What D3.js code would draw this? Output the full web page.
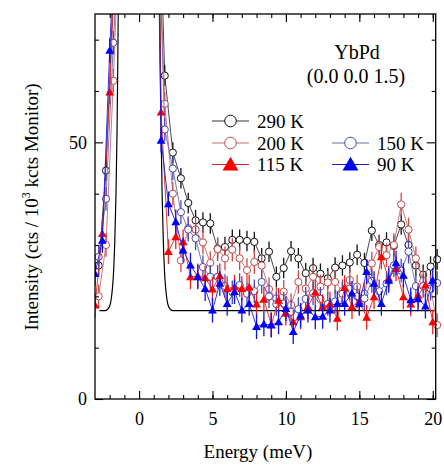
<!DOCTYPE html>
<html>
<head>
<meta charset="utf-8">
<script src="https://cdn.jsdelivr.net/npm/d3@7"></script>
<style>
  body { margin: 0; background: #fff; }
  svg, svg text { font-family: 'Liberation Serif', Tinos, 'Times New Roman', Times, 'DejaVu Serif', serif; }
</style>
</head>
<body>
<script>
// #Data (energy in meV, intensity in cts / 10^3 kcts monitor)
// circles sit on one energy grid, triangles on another
const eCircles = [-2.75, -2.25, -1.75, -1.25, 1.25, 1.75, 2.3, 2.85, 3.35, 3.85, 4.35, 4.85, 5.35, 5.85,
  6.35, 6.85, 7.35, 7.85, 8.35, 8.85, 9.35, 9.85, 10.35, 10.85, 11.35, 11.85, 12.35, 12.85, 13.35,
  13.85, 14.35, 14.85, 15.35, 15.85, 16.35, 16.85, 17.35, 17.85, 18.35, 18.85, 19.35, 19.85, 20.3];
const eTriangles = [-3.0, -2.5, -2.0, -1.5, 1.0, 1.5, 2.0, 2.5, 3.0, 3.5, 4.0, 4.5, 5.0, 5.5, 6.0,
  6.5, 7.0, 7.5, 8.0, 8.5, 9.0, 9.5, 10.0, 10.5, 11.0, 11.5, 12.0, 12.5, 13.0, 13.5, 14.0, 14.5,
  15.0, 15.5, 16.0, 16.5, 17.0, 17.5, 18.0, 18.5, 19.0, 19.5, 20.0];

const i290 = [26, 44.5, 80, 110, 110, 63, 48, 43, 38.2, 34.8, 34.4, 34.2, 29.3, 29.6, 31, 31, 30.8, 30.6,
  27.4, 28.7, 23.8, 25.5, 28.8, 27.4, 24.5, 25.5, 24.4, 23.5, 25.6, 26, 26.6, 28.1, 26.5, 32.8,
  30, 30.5, 29.8, 34, 30, 26, 24.2, 25.8, 27.2];
const i200 = [20, 30, 62, 100, 100, 57.5, 40, 27, 33.3, 33, 30.5, 26.5, 29.2, 27.4, 29.1, 27.4, 25.1, 26.7,
  26, 21.4, 19.6, 20.9, 18.3, 22.8, 21.5, 23.8, 21.9, 22.7, 22.8, 21, 23.2, 21.9, 20.5, 26.4,
  29.6, 28, 30, 37.9, 33, 27.4, 23, 21.9, 14.4];
const i150 = [27.7, 39, 69.4, 97, 100, 52.5, 44.9, 36.4, 33, 31.3, 25.7, 23.8, 23.8, 22, 20.8, 22.2, 20.5, 21,
  22.8, 20, 18.5, 18.6, 17, 17.5, 19.5, 20.6, 19.5, 18.5, 19, 20.5, 21.5, 20, 19.6, 23,
  21, 22.5, 26, 25, 28.7, 22, 22, 21.5, 22.6];
const i115 = [18.3, 32.2, 59.8, 95, 150, 55.9, 28.7, 31.6, 30.6, 23.8, 24, 23.6, 21.4, 24, 21.5, 21.8, 21.5,
  21.8, 18.5, 19.4, 14.5, 19.2, 16.7, 15, 16, 18, 20.8, 18, 18.5, 15.7, 21.7, 18, 19, 15.9,
  19.9, 27.7, 23.5, 25.4, 19.9, 18.5, 20.2, 22.2, 15];
const i90 = [24.4, 30.9, 67.9, 100, 150, 50.4, 38, 34.5, 29, 26.1, 23.8, 21.5, 17.3, 22.5, 18.6, 20.9, 17.3,
  18.6, 14.1, 14.6, 14.4, 15, 17.6, 13.1, 16.3, 17.3, 16, 16.1, 17.3, 18.6, 18.6, 20.6, 18.6, 24.8,
  22.5, 18.6, 23.1, 26.5, 24.1, 19.3, 19.5, 18.1, 23.1];

// #Half length of the error bars for each temperature
const errors = [2.0, 2.3, 2.3, 2.4, 2.4];

// #Resolution (elastic) line
const resE = [-2.7, -2.3, -2.1, -1.95, -1.85, -1.75, -1.65, -1.57, -1.5, -1.45, -1.4,
  1.4, 1.45, 1.5, 1.57, 1.65, 1.75, 1.85, 1.95, 2.1, 2.3, 20.2];
const resI = [17.2, 17.2, 17.6, 18.6, 20.5, 24, 31, 40, 52, 65, 78,
  78, 65, 52, 40, 31, 24, 20.5, 18.6, 17.6, 17.2, 17.2];

const labels = ['290 K', '200 K', '150 K', '115 K', '90 K'];
const xMajor = [0, 5, 10, 15, 20];
const xMinor = d3.range(-2, 21, 1);
const yMajor = [0, 50];
const yMinor = [10, 20, 30, 40, 60, 70];

const FONT = "'Liberation Serif', Tinos, 'Times New Roman', Times, 'DejaVu Serif', serif";

// #Series styles
const series = [
  {name: labels[0], e: eCircles, v: i290, err: errors[0], shape: 'circle', line: '#333', stroke: '#111', fill: '#fff', bar: '#111'},
  {name: labels[1], e: eCircles, v: i200, err: errors[1], shape: 'circle', line: '#c07070', stroke: '#c04a4a', fill: '#fff', bar: '#d04848'},
  {name: labels[2], e: eCircles, v: i150, err: errors[2], shape: 'circle', line: '#6a6ab0', stroke: '#4848a8', fill: '#fff', bar: '#4848b8'},
  {name: labels[3], e: eTriangles, v: i115, err: errors[3], shape: 'triangle', line: '#e02020', stroke: '#ff0000', fill: '#ff0000', bar: '#e82020'},
  {name: labels[4], e: eTriangles, v: i90, err: errors[4], shape: 'triangle', line: '#1a1ae0', stroke: '#0000ff', fill: '#0000ff', bar: '#1010e8'}
];

// #SVG
const width = 444, height = 468;
const margin = {top: 14, right: 8.3, bottom: 69, left: 95};

const svg = d3.select('body')
              .append('svg')
              .attr('width', width)
              .attr('height', height)
              .attr('font-family', FONT);

const x = d3.scaleLinear()
            .domain([-3, 20.2])
            .range([margin.left, width - margin.right]);
const y = d3.scaleLinear()
            .domain([0, 75])
            .range([height - margin.bottom, margin.top]);

svg.append('clipPath')
   .attr('id', 'plot-clip')
   .append('rect')
   .attr('x', margin.left)
   .attr('y', margin.top)
   .attr('width', width - margin.left - margin.right + 6)
   .attr('height', height - margin.top - margin.bottom);

const plot = svg.append('g').attr('clip-path', 'url(#plot-clip)');

// #Resolution line
const resLine = d3.line()
                  .x(d => x(d[0]))
                  .y(d => y(d[1]))
                  .curve(d3.curveMonotoneX);
plot.append('path')
    .datum(resE.map((e, i) => [e, resI[i]]))
    .attr('d', resLine)
    .attr('fill', 'none')
    .attr('stroke', '#000')
    .attr('stroke-width', 1.2);

// #Draw each temperature
const line = d3.line().x(d => x(d[0])).y(d => y(d[1]));
const triangle = d3.symbol().type(d3.symbolTriangle);

series.forEach(s => {
    const pts = s.e.map((e, i) => [e, s.v[i]]);
    const g = plot.append('g');

    g.append('path')
     .datum(pts)
     .attr('d', line)
     .attr('fill', 'none')
     .attr('stroke', s.line)
     .attr('stroke-width', 0.9);

    const shown = pts.filter(d => d[1] < 75);

    g.selectAll('line.err')
     .data(shown)
     .enter()
     .append('line')
     .attr('x1', d => x(d[0]))
     .attr('x2', d => x(d[0]))
     .attr('y1', d => y(d[1] - s.err))
     .attr('y2', d => y(d[1] + s.err))
     .attr('stroke', s.bar)
     .attr('stroke-width', 1.3);

    if (s.shape === 'circle') {
        g.selectAll('circle')
         .data(shown)
         .enter()
         .append('circle')
         .attr('cx', d => x(d[0]))
         .attr('cy', d => y(d[1]))
         .attr('r', 3.6)
         .attr('fill', s.fill)
         .attr('stroke', s.stroke)
         .attr('stroke-width', 1);
    } else {
        g.selectAll('path.mk')
         .data(shown)
         .enter()
         .append('path')
         .attr('d', triangle.size(34))
         .attr('transform', d => `translate(${x(d[0])},${y(d[1]) + 0.8})`)
         .attr('fill', s.fill);
    }
});

// #Axes, ticks inward on all four sides
const x0 = margin.left, x1 = width - margin.right;
const y0 = height - margin.bottom, y1 = margin.top;

const addAxis = (axis, tf) => {
    const g = svg.append('g').attr('transform', tf).call(axis);
    g.attr('font-family', FONT).attr('font-size', 18);
    g.select('.domain').remove();
    g.selectAll('line').attr('stroke', '#000').attr('stroke-width', 1.1);
    g.selectAll('text').attr('fill', '#000').style('font-family', FONT);
    return g;
};

addAxis(d3.axisBottom(x).tickValues(xMinor).tickSize(-4).tickFormat(''), `translate(0,${y0})`);
addAxis(d3.axisBottom(x).tickValues(xMajor).tickSize(-8).tickPadding(13).tickFormat(d3.format('d')), `translate(0,${y0})`);
addAxis(d3.axisTop(x).tickValues(xMinor).tickSize(-4).tickFormat(''), `translate(0,${y1})`);
addAxis(d3.axisTop(x).tickValues(xMajor).tickSize(-8).tickFormat(''), `translate(0,${y1})`);

addAxis(d3.axisLeft(y).tickValues(yMinor).tickSize(-4).tickFormat(''), `translate(${x0},0)`);
addAxis(d3.axisLeft(y).tickValues(yMajor).tickSize(-8).tickPadding(8).tickFormat(d3.format('d')), `translate(${x0},0)`);
addAxis(d3.axisRight(y).tickValues(yMinor).tickSize(-4).tickFormat(''), `translate(${x1},0)`);
addAxis(d3.axisRight(y).tickValues(yMajor).tickSize(-9).tickFormat(''), `translate(${x1},0)`);

svg.append('rect')
   .attr('x', x0)
   .attr('y', y1)
   .attr('width', x1 - x0)
   .attr('height', y0 - y1)
   .attr('fill', 'none')
   .attr('stroke', '#000')
   .attr('stroke-width', 1.3);

// #Axis titles
svg.append('text')
   .attr('x', 258)
   .attr('y', 458)
   .attr('text-anchor', 'middle')
   .attr('font-size', 19)
   .style('font-family', FONT)
   .text('Energy (meV)');

const yTitle = svg.append('text')
   .attr('transform', `translate(38,207) rotate(-90)`)
   .attr('text-anchor', 'middle')
   .attr('font-size', 19)
   .style('font-family', FONT);
yTitle.append('tspan').text('Intensity (cts / 10');
yTitle.append('tspan').attr('font-size', 12).attr('dy', -8).text('3');
yTitle.append('tspan').attr('dy', 8).text(' kcts Monitor)');

// #Sample label
svg.append('text')
   .attr('x', 357).attr('y', 59)
   .attr('text-anchor', 'middle')
   .attr('font-size', 20)
   .style('font-family', FONT)
   .text('YbPd');
svg.append('text')
   .attr('x', 356).attr('y', 83)
   .attr('text-anchor', 'middle')
   .attr('font-size', 20)
   .style('font-family', FONT)
   .text('(0.0 0.0 1.5)');

// #Legend
const legendPos = [[212, 121], [212, 143], [332, 143], [212, 164.5], [332, 164.5]];
const bigTriangle = d3.symbol().type(d3.symbolTriangle).size(110);

series.forEach((s, i) => {
    const [lx, ly] = legendPos[i];
    const g = svg.append('g').attr('transform', `translate(${lx},${ly})`);
    g.append('line')
     .attr('x1', 0).attr('x2', 37)
     .attr('stroke', s.line)
     .attr('stroke-width', 1);
    if (s.shape === 'circle') {
        g.append('circle')
         .attr('cx', 18.5).attr('r', 5.8)
         .attr('fill', '#fff')
         .attr('stroke', s.stroke)
         .attr('stroke-width', 1);
    } else {
        g.append('path')
         .attr('d', bigTriangle)
         .attr('transform', 'translate(18.5,1.5)')
         .attr('fill', s.fill);
    }
    g.append('text')
     .attr('x', 45)
     .attr('y', 6.5)
     .attr('font-size', 19)
     .style('font-family', FONT)
     .text(s.name);
});
</script>
</body>
</html>
